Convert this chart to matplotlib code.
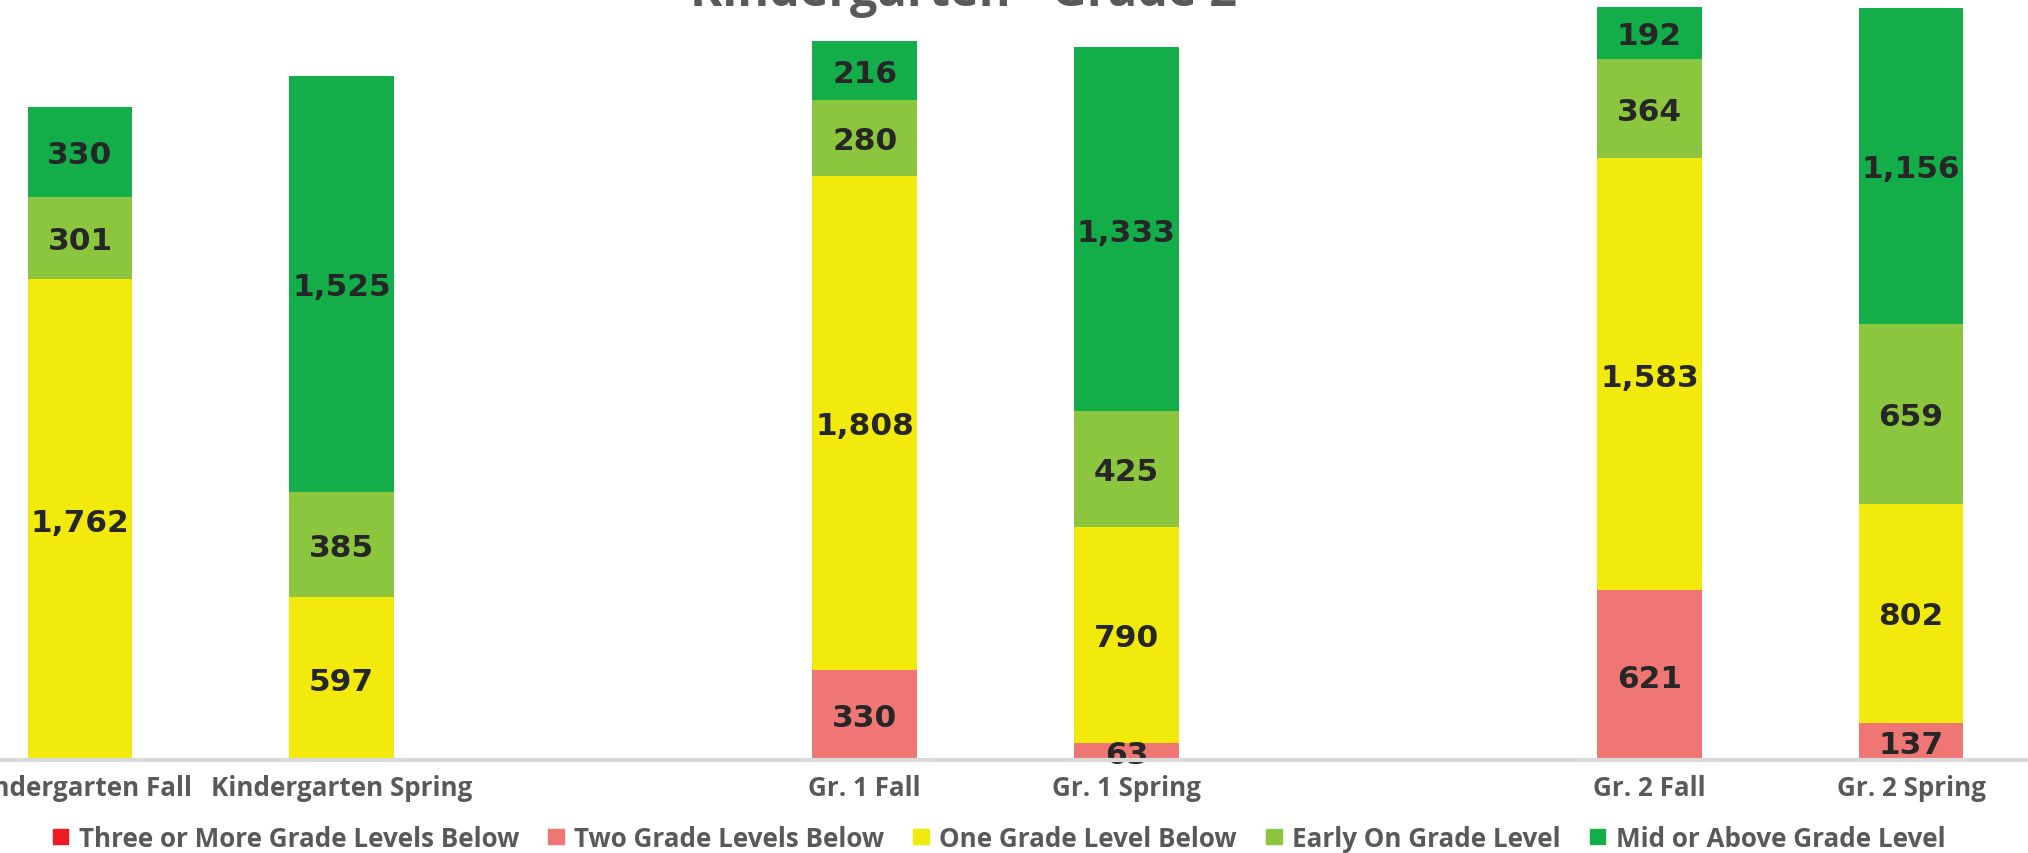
import matplotlib
matplotlib.use('Agg')
import matplotlib.pyplot as plt
from matplotlib.patches import Rectangle
import numpy as np

# reading levels by assessment window
periods = ['Kindergarten Fall', 'Kindergarten Spring', 'Gr. 1 Fall', 'Gr. 1 Spring',
           'Gr. 2 Fall', 'Gr. 2 Spring']
slots = [0, 1, 3, 4, 6, 7]  # blank slot between grades

levels = ['Three or More Grade Levels Below', 'Two Grade Levels Below',
          'One Grade Level Below', 'Early On Grade Level', 'Mid or Above Grade Level']
three_below = [0, 0, 0, 0, 0, 0]
two_below = [0, 0, 330, 63, 621, 137]
one_below = [1762, 597, 1808, 790, 1583, 802]
early_on = [301, 385, 280, 425, 364, 659]
mid_above = [330, 1525, 216, 1333, 192, 1156]

colors = ['#ED1C24', '#F07575', '#F2EA0D', '#8CC63F', '#13AE4A']
txt_gray = '#595959'
val_color = '#262626'

fig = plt.figure(figsize=(20.28, 8.54), dpi=100)
ax = fig.add_axes([0, 0.1089, 1, 0.8911])

series = [three_below, two_below, one_below, early_on, mid_above]
bottom = np.zeros(len(periods))
for vals, color in zip(series, colors):
    vals = np.array(vals, dtype=float)
    ax.bar(slots, vals, width=0.4, bottom=bottom, color=color, zorder=2)
    for x, b, v in zip(slots, bottom, vals):
        if v > 0:
            ax.annotate(f'{int(v):,}', (x, b + v / 2), xytext=(0, -2),
                        textcoords='offset points', ha='center', va='center',
                        fontsize=22.5, fontweight='bold', color=val_color,
                        family='DejaVu Sans', zorder=3)
    bottom += vals

ax.set_xlim(-0.3058, 7.447)
ax.set_ylim(0, 2788)
ax.axhline(0, color='#D9D9D9', linewidth=3, zorder=5, clip_on=False)

ax.set_xticks(slots)
ax.set_xticklabels(periods, fontsize=18.7, fontweight='bold', color=txt_gray,
                   family='Open Sans')
ax.tick_params(axis='x', length=0, pad=10)
ax.set_yticks([])
for s in ax.spines.values():
    s.set_visible(False)
ax.patch.set_visible(False)

fig.text(0.475, 0.993, 'Kindergarten - Grade 2', ha='center', va='baseline',
         fontsize=35, fontweight='bold', color=txt_gray, family='Open Sans')

handles = [Rectangle((0, 0), 1, 1, color=c) for c in colors]
fig.legend(handles, levels, loc='center', bbox_to_anchor=(0.4926, 0.0175),
           ncol=5, frameon=False, handlelength=0.6, handleheight=0.5,
           handletextpad=0.4, columnspacing=1.12,
           prop={'family': 'Open Sans', 'weight': 'bold', 'size': 18.7},
           labelcolor=txt_gray)

fig.savefig('out.png', dpi=100)
